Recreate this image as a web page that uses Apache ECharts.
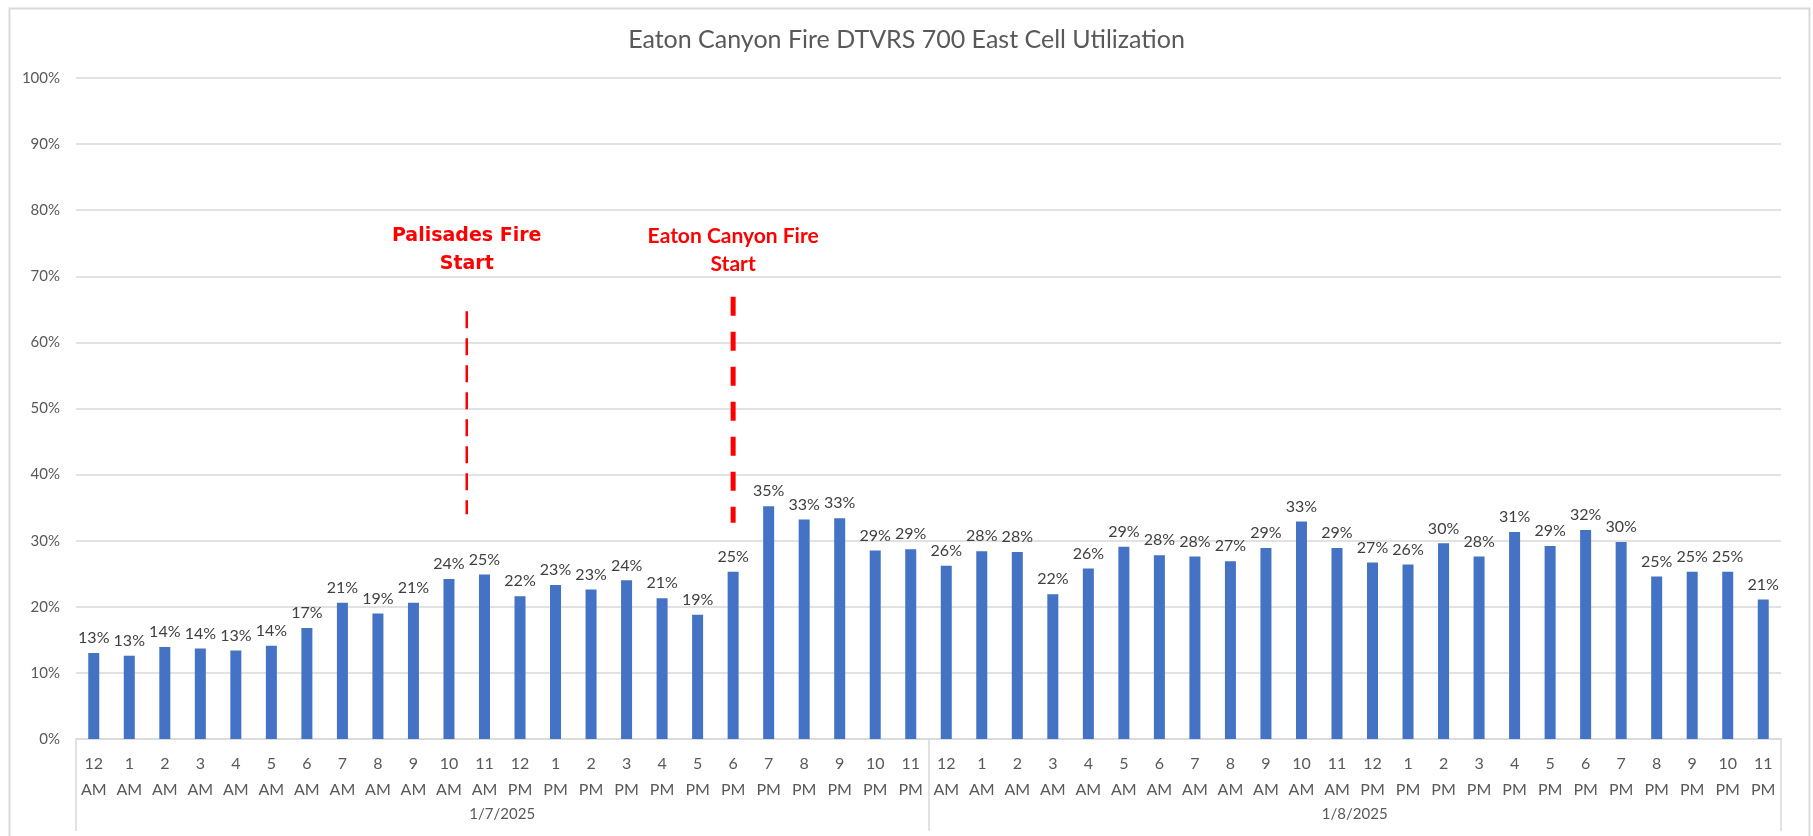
<!DOCTYPE html>
<html>
<head>
<meta charset="utf-8">
<title>Eaton Canyon Fire DTVRS 700 East Cell Utilization</title>
<script src="https://cdn.jsdelivr.net/npm/echarts@6/dist/echarts.min.js"></script>
<style>
  html, body { margin: 0; padding: 0; background: #fff; }
  #chart { width: 1813px; height: 836px; }
</style>
</head>
<body>
<div id="chart"></div>
<script>
// hour labels of one day (first level of the category axis)
const hours = ['12 AM', '1 AM', '2 AM', '3 AM', '4 AM', '5 AM', '6 AM', '7 AM', '8 AM', '9 AM', '10 AM', '11 AM',
  '12 PM', '1 PM', '2 PM', '3 PM', '4 PM', '5 PM', '6 PM', '7 PM', '8 PM', '9 PM', '10 PM', '11 PM']
// second level: the dates
const days = ['1/7/2025', '1/8/2025']

// utilization %
const day1 = [13.0, 12.6, 13.9, 13.7, 13.4, 14.1, 16.8, 20.6, 19.0, 20.6, 24.2, 24.9,
  21.6, 23.3, 22.6, 24.0, 21.3, 18.8, 25.3, 35.2, 33.2, 33.4, 28.5, 28.7]
const day2 = [26.2, 28.4, 28.3, 21.9, 25.8, 29.1, 27.8, 27.6, 26.9, 28.9, 32.9, 28.9,
  26.7, 26.4, 29.6, 27.6, 31.3, 29.2, 31.6, 29.8, 24.6, 25.3, 25.3, 21.1]

// fire start markers: x in category units (0..48), top/bottom in %
const palisadesLine = [[11, 64.7], [11, 34]]
const eatonLine = [[18.5, 66.9], [18.5, 32.7]]

const categories = days.flatMap(d => hours.map(h => d + '|' + h))
const values = day1.concat(day2)

const chart = echarts.init(document.getElementById('chart'))

const gray = '#595959'
const gridColor = '#d9d9d9'

chart.setOption({
  backgroundColor: '#fff',
  animation: false,
  title: {
    text: 'Eaton Canyon Fire DTVRS 700 East Cell Utilization',
    left: 'center',
    top: 22,
    textStyle: { fontFamily: 'Lato', fontSize: 25, fontWeight: 'normal', color: gray }
  },
  graphic: [{
    type: 'rect',
    left: 7,
    top: 6,
    shape: { width: 1800, height: 850 },
    style: { fill: 'none', stroke: gridColor, lineWidth: 2 },
    silent: true
  }],
  grid: { left: 76, right: 32, top: 78, bottom: 97 },
  xAxis: [
    {
      type: 'category',
      data: categories,
      axisLine: { lineStyle: { color: gridColor, width: 1.5 } },
      axisTick: { show: false },
      axisLabel: {
        interval: 0,
        margin: 12,
        color: gray,
        fontFamily: 'Lato',
        fontSize: 16,
        lineHeight: 26,
        formatter: v => v.split('|')[1].replace(' ', '\n')
      }
    },
    {
      type: 'category',
      data: days,
      position: 'bottom',
      axisLine: { show: false },
      axisTick: { show: true, length: 92, lineStyle: { color: gridColor, width: 1.5 } },
      axisLabel: { margin: 68, color: gray, fontFamily: 'Lato', fontSize: 15 },
      splitLine: { show: false }
    },
    {
      type: 'value',
      min: 0,
      max: categories.length,
      show: false
    }
  ],
  yAxis: {
    type: 'value',
    min: 0,
    max: 100,
    interval: 10,
    axisLine: { show: false },
    axisTick: { show: false },
    axisLabel: {
      margin: 16,
      color: gray,
      fontFamily: 'Lato',
      fontSize: 15,
      formatter: '{value}%'
    },
    splitLine: { lineStyle: { color: gridColor, width: 1.5 } }
  },
  series: [
    {
      type: 'bar',
      data: values,
      barWidth: 11,
      itemStyle: { color: '#4472C4' },
      label: {
        show: true,
        position: 'top',
        distance: 7,
        color: '#404040',
        fontFamily: 'Lato',
        fontSize: 16,
        formatter: p => Math.round(p.value) + '%'
      }
    },
    {
      type: 'line',
      xAxisIndex: 2,
      data: [
        {
          value: palisadesLine[0],
          label: {
            show: true,
            position: 'top',
            distance: 33,
            formatter: 'Palisades Fire\nStart',
            color: '#ff0000',
            fontFamily: 'DejaVu Sans',
            fontWeight: 'bold',
            fontSize: 19,
            lineHeight: 28,
            align: 'center'
          }
        },
        palisadesLine[1]
      ],
      symbolSize: 0,
      lineStyle: { color: '#ff0000', width: 2.5, type: [17, 10] }
    },
    {
      type: 'line',
      xAxisIndex: 2,
      data: [
        {
          value: eatonLine[0],
          label: {
            show: true,
            position: 'top',
            distance: 19,
            formatter: 'Eaton Canyon Fire\nStart',
            color: '#ff0000',
            fontFamily: 'Lato',
            fontWeight: 'bold',
            fontSize: 21,
            lineHeight: 28,
            align: 'center'
          }
        },
        eatonLine[1]
      ],
      symbolSize: 0,
      lineStyle: { color: '#ff0000', width: 5, type: [19, 16] }
    }
  ]
})
</script>
</body>
</html>
